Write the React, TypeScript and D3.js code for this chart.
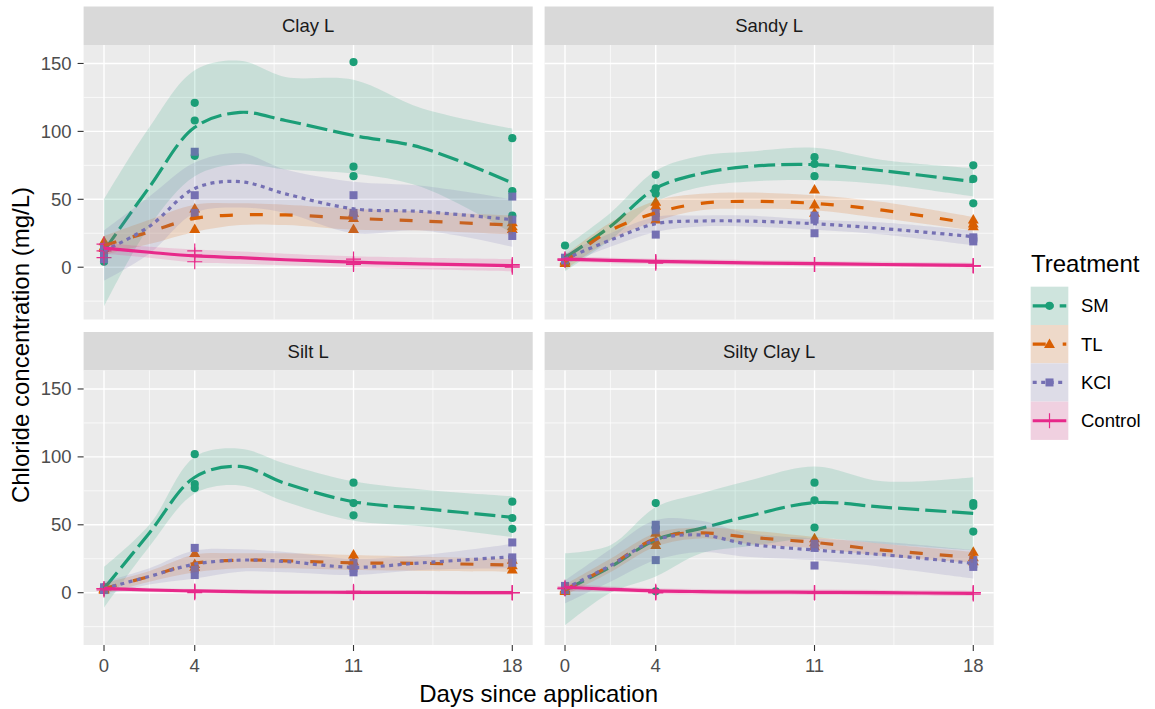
import React from 'react';
import * as d3 from 'd3';

// ---------- data ----------
const DAYS = [0, 4, 11, 18];
const SMOOTH_DAYS = [0, 2, 4, 6, 8, 11, 14, 18];
const SOILS = ['Clay L', 'Sandy L', 'Silt L', 'Silty Clay L'];
const TREATMENTS = ['SM', 'TL', 'KCl', 'Control'];
const COLORS = ['#1B9E77', '#D95F02', '#7570B3', '#E7298A'];
const Y_TICKS = [0, 50, 100, 150];
const Y_MINOR = [-25, 25, 75, 125];
const X_TICKS = [0, 4, 11, 18];
const X_MINOR = [2, 7.5, 14.5];

// observed replicates: per treatment, per day (0,4,11,18)
const CLAY_PTS = [
  [[4, 10, 14], [121, 108, 82], [151, 74, 67], [95, 56, 38]],
  [[19, 15, 14], [43, 38, 28], [40, 36, 28], [33, 30, 28]],
  [[6, 10, 15], [85, 53, 40], [53, 40, 38], [52, 35, 23]],
  [[17, 7, 12], [12, 4, 9], [6, 2, 3], [2, 1, 0]],
];
const SANDY_PTS = [
  [[16, 6, 5], [68, 58, 54], [81, 76, 67], [75, 65, 47]],
  [[5, 4, 3], [48, 45, 35], [57, 46, 40], [35, 32, 30]],
  [[7, 6, 5], [40, 37, 24], [38, 35, 25], [22, 21, 19]],
  [[6, 6, 5], [4, 4, 3], [2, 2, 2], [1, 1, 1]],
];
const SILT_PTS = [
  [[3, 2, 4], [102, 80, 77], [81, 66, 57], [67, 55, 47]],
  [[3, 3, 2], [29, 21, 19], [28, 23, 20], [24, 20, 17]],
  [[4, 3, 2], [33, 17, 13], [22, 18, 15], [37, 26, 22]],
  [[3, 2, 3], [1, 1, 0], [1, 0, 0], [0, 0, 0]],
];
const SILTYCLAY_PTS = [
  [[2, 1, 3], [66, 48, 1], [81, 68, 48], [66, 64, 45]],
  [[2, 1, 3], [44, 38, 35], [40, 37, 34], [30, 26, 23]],
  [[5, 2, 3], [50, 46, 24], [36, 33, 20], [24, 21, 19]],
  [[3, 3, 4], [1, 0, 0], [0, 0, 0], [0, -1, 0]],
];

// smoothed fit and confidence band, per treatment, at SMOOTH_DAYS
const CLAY_FIT = [
  [12, 59, 103, 114, 108, 97, 88, 62],
  [16, 26, 36, 38.5, 38.5, 36, 34, 31],
  [12, 30, 58, 63, 54, 43, 41, 35],
  [14, 11, 8.3, 7, 5.5, 3.7, 2.5, 1.2],
];
const CLAY_LO = [
  [-29, 30, 67, 76, 72, 69, 59, 25],
  [9, 17, 26, 31, 31, 27.5, 27, 24],
  [-10, 10, 40, 44, 40, 25, 27, 15],
  [10, 7, 3.5, 2.5, 1.5, 0, -1.5, -3],
];
const CLAY_HI = [
  [50, 103, 145, 152, 140, 138, 117, 102],
  [23, 35, 46, 47, 46, 43, 41, 38],
  [27, 52, 77, 84, 72, 63, 60, 50],
  [18, 15, 13, 11.5, 10, 8, 7, 6],
];
const SANDY_FIT = [
  [7, 30, 58, 69, 74, 75.5, 71, 63],
  [4, 27, 40, 47, 48.5, 47, 42, 32],
  [6, 20, 32, 34, 34, 32, 28.5, 22.5],
  [6, 5, 4.3, 3.8, 3.2, 2.6, 2, 1.3],
];
const SANDY_LO = [
  [-3, 20, 48, 59, 63, 64, 61, 52],
  [-2, 20, 34, 42, 43, 42, 36, 27],
  [2, 15, 26, 30, 30, 27.5, 24, 16],
  [4, 3, 2.3, 1.8, 1.2, 0.6, 0, -0.7],
];
const SANDY_HI = [
  [15, 40, 71, 82, 85, 88, 79, 73],
  [9, 33, 49, 54, 55, 53, 48, 37],
  [10, 25, 37, 38, 38, 35, 33, 27],
  [8, 7, 6.3, 5.8, 5.2, 4.6, 4, 3.3],
];
const SILT_FIT = [
  [3, 44, 85, 93, 80.5, 67, 62, 55.5],
  [3, 12, 21.6, 24, 23.5, 22, 21.6, 20.4],
  [3, 12, 21, 24, 23, 18.7, 22, 26.5],
  [3, 2, 1.3, 0.8, 0.5, 0.3, 0.2, 0],
];
const SILT_LO = [
  [-11, 34, 73, 79, 67, 53, 49, 41],
  [-1, 8, 15, 18, 18, 16.7, 16, 15.5],
  [-2, 6, 10.5, 15.5, 15, 13, 16.7, 18],
  [1.5, 0.5, -0.2, -0.7, -1, -1.2, -1.3, -1.5],
];
const SILT_HI = [
  [19, 50, 100, 106, 95, 82, 76, 71],
  [7, 16, 28, 29, 29, 27.7, 26.5, 25],
  [8, 18, 31, 32, 30, 25, 27.7, 36],
  [4.5, 3.5, 2.8, 2.3, 2, 1.8, 1.7, 1.5],
];
const SILTYCLAY_FIT = [
  [2, 19, 39, 47.4, 56, 66.3, 63, 58.4],
  [2, 20, 40, 44, 41, 37, 31.4, 26],
  [3, 20, 39, 42.5, 36, 31.4, 28, 21.6],
  [4, 2.5, 1.3, 0.8, 0.5, 0.3, 0, -0.5],
];
const SILTYCLAY_LO = [
  [-24, 0, 12, 29, 34, 40, 36, 31],
  [-2, 15, 34, 40, 36, 32.7, 27, 22],
  [-8, 8, 24, 30, 26.5, 24, 19, 10.5],
  [1, 0.5, -0.7, -1.2, -1.5, -1.7, -2, -2.5],
];
const SILTYCLAY_HI = [
  [29, 35, 63, 73, 82, 93, 82, 85],
  [6, 25, 44, 48, 46, 41, 36, 30],
  [9, 32, 53.5, 53, 44, 40, 37.5, 31.4],
  [7, 4.5, 3.3, 2.8, 2.5, 2.3, 2, 1.5],
];

const PANEL_PTS = [CLAY_PTS, SANDY_PTS, SILT_PTS, SILTYCLAY_PTS];
const PANEL_FIT = [CLAY_FIT, SANDY_FIT, SILT_FIT, SILTYCLAY_FIT];
const PANEL_LO = [CLAY_LO, SANDY_LO, SILT_LO, SILTYCLAY_LO];
const PANEL_HI = [CLAY_HI, SANDY_HI, SILT_HI, SILTYCLAY_HI];

// ---------- layout ----------
const W = 1155;
const H = 709;
const LEFT = 83.6;
const PW = 449.1;
const GAP_X = 11.9;
const TOP = 6.5;
const STRIP_H = 38.5;
const PH = 274.5;
const GAP_Y = 12.5;
const FONT = '"Liberation Sans", Arial, "DejaVu Sans", sans-serif';
const DASHES = ['21,6', '13,17', '4,4.5', null];
const LW = 3.2;
const RIBBON_ALPHA = 0.17;

function Glyph({ t, cx, cy, color }: { t: number; cx: number; cy: number; color: string }) {
  if (t === 0) return <circle cx={cx} cy={cy} r={4.1} fill={color} />;
  if (t === 1) {
    const p = d3.symbol().type(d3.symbolTriangle).size(52)();
    return <path d={p || ''} transform={`translate(${cx},${cy + 0.6})`} fill={color} />;
  }
  if (t === 2) return <rect x={cx - 4} y={cy - 4} width={8} height={8} fill={color} />;
  return (
    <g stroke={color} strokeWidth={1.2}>
      <line x1={cx - 7.5} x2={cx + 7.5} y1={cy} y2={cy} />
      <line x1={cx} x2={cx} y1={cy - 7.5} y2={cy + 7.5} />
    </g>
  );
}

export default function App() {
  const x = d3.scaleLinear().domain([-0.9, 18.9]).range([0, PW]);
  const y = d3.scaleLinear().domain([-38.5, 163.6]).range([PH, 0]);
  const curve = d3.curveCatmullRom.alpha(0.5);
  const line = d3
    .line<number>()
    .x((_, i) => x(SMOOTH_DAYS[i]))
    .y((v) => y(v))
    .curve(curve);

  const panels = SOILS.map((soil, pi) => {
    const col = pi % 2;
    const row = Math.floor(pi / 2);
    const px = LEFT + col * (PW + GAP_X);
    const sy = TOP + row * (STRIP_H + PH + GAP_Y);
    const py = sy + STRIP_H;
    const pts = PANEL_PTS[pi];
    const fit = PANEL_FIT[pi];
    const lo = PANEL_LO[pi];
    const hi = PANEL_HI[pi];
    const clipId = `clip-${pi}`;
    return (
      <g key={soil}>
        {/* strip */}
        <rect x={px} y={sy} width={PW} height={STRIP_H} fill="#D9D9D9" />
        <text
          x={px + PW / 2}
          y={sy + STRIP_H / 2}
          textAnchor="middle"
          dominantBaseline="central"
          fontSize={18.5}
          fill="#1A1A1A"
          fontFamily={FONT}
        >
          {soil}
        </text>
        <g transform={`translate(${px},${py})`}>
          <defs>
            <clipPath id={clipId}>
              <rect x={0} y={0} width={PW} height={PH} />
            </clipPath>
          </defs>
          <rect x={0} y={0} width={PW} height={PH} fill="#EBEBEB" />
          {Y_MINOR.map((v) => (
            <line key={'ym' + v} x1={0} x2={PW} y1={y(v)} y2={y(v)} stroke="#fff" strokeWidth={0.7} />
          ))}
          {X_MINOR.map((v) => (
            <line key={'xm' + v} x1={x(v)} x2={x(v)} y1={0} y2={PH} stroke="#fff" strokeWidth={0.7} />
          ))}
          {Y_TICKS.map((v) => (
            <line key={'yM' + v} x1={0} x2={PW} y1={y(v)} y2={y(v)} stroke="#fff" strokeWidth={1.4} />
          ))}
          {X_TICKS.map((v) => (
            <line key={'xM' + v} x1={x(v)} x2={x(v)} y1={0} y2={PH} stroke="#fff" strokeWidth={1.4} />
          ))}
          <g clipPath={`url(#${clipId})`}>
            {/* points */}
            {TREATMENTS.map((tr, ti) => (
              <g key={'p' + tr}>
                {DAYS.map((d, di) =>
                  pts[ti][di].map((v, ri) => (
                    <Glyph key={`${di}-${ri}`} t={ti} cx={x(d)} cy={y(v)} color={COLORS[ti]} />
                  ))
                )}
              </g>
            ))}
            {/* smooths */}
            {TREATMENTS.map((tr, ti) => {
              const areaGen = d3
                .area<number>()
                .x((_, i) => x(SMOOTH_DAYS[i]))
                .y0((_, i) => y(lo[ti][i]))
                .y1((_, i) => y(hi[ti][i]))
                .curve(curve);
              return (
                <g key={'s' + tr}>
                  <path d={areaGen(fit[ti]) || ''} fill={COLORS[ti]} fillOpacity={RIBBON_ALPHA} />
                  <path
                    d={line(fit[ti]) || ''}
                    fill="none"
                    stroke={COLORS[ti]}
                    strokeWidth={LW}
                    strokeDasharray={DASHES[ti] || undefined}
                  />
                </g>
              );
            })}
          </g>
          {/* y axis */}
          {col === 0 &&
            Y_TICKS.map((v) => (
              <g key={'yt' + v}>
                <line x1={-6} x2={0} y1={y(v)} y2={y(v)} stroke="#333333" strokeWidth={1.1} />
                <text
                  x={-12}
                  y={y(v)}
                  textAnchor="end"
                  dominantBaseline="central"
                  fontSize={18.5}
                  fill="#4D4D4D"
                  fontFamily={FONT}
                >
                  {v}
                </text>
              </g>
            ))}
          {/* x axis */}
          {row === 1 &&
            X_TICKS.map((v) => (
              <g key={'xt' + v}>
                <line x1={x(v)} x2={x(v)} y1={PH} y2={PH + 6} stroke="#333333" strokeWidth={1.1} />
                <text
                  x={x(v)}
                  y={PH + 27}
                  textAnchor="middle"
                  fontSize={18.5}
                  fill="#4D4D4D"
                  fontFamily={FONT}
                >
                  {v}
                </text>
              </g>
            ))}
        </g>
      </g>
    );
  });

  const panelsTop = TOP + STRIP_H;
  const panelsBottom = TOP + 2 * (STRIP_H + PH) + GAP_Y;
  const panelsRight = LEFT + 2 * PW + GAP_X;

  const keyX = 1030.7;
  const keyW = 37.6;
  const keyY = 286.7;
  const keyH = 38.3;

  return (
    <svg
      width={W}
      height={H}
      viewBox={`0 0 ${W} ${H}`}
      style={{ position: 'absolute', left: 0, top: 0, background: '#fff' }}
    >
      <rect x={0} y={0} width={W} height={H} fill="#fff" />
      {panels}
      {/* axis titles */}
      <text
        x={(LEFT + panelsRight) / 2}
        y={701.5}
        textAnchor="middle"
        fontSize={24}
        fill="#000"
        fontFamily={FONT}
      >
        Days since application
      </text>
      <text
        transform={`translate(28.5,${(panelsTop + panelsBottom) / 2}) rotate(-90)`}
        textAnchor="middle"
        fontSize={24}
        fill="#000"
        fontFamily={FONT}
      >
        Chloride concentration (mg/L)
      </text>
      {/* legend */}
      <text x={1031} y={271.5} fontSize={24} fill="#000" fontFamily={FONT}>
        Treatment
      </text>
      {TREATMENTS.map((tr, ti) => {
        const ky = keyY + ti * keyH;
        const cy = ky + keyH / 2;
        return (
          <g key={'lg' + tr}>
            <rect x={keyX} y={ky} width={keyW} height={keyH} fill="#F2F2F2" />
            <rect x={keyX} y={ky} width={keyW} height={keyH} fill={COLORS[ti]} fillOpacity={RIBBON_ALPHA} />
            <line
              x1={keyX + 2}
              x2={keyX + keyW - 2}
              y1={cy}
              y2={cy}
              stroke={COLORS[ti]}
              strokeWidth={LW}
              strokeDasharray={DASHES[ti] || undefined}
            />
            <Glyph t={ti} cx={keyX + keyW / 2} cy={cy} color={COLORS[ti]} />
            <text
              x={1081}
              y={cy}
              dominantBaseline="central"
              fontSize={18.5}
              fill="#000"
              fontFamily={FONT}
            >
              {tr}
            </text>
          </g>
        );
      })}
    </svg>
  );
}
